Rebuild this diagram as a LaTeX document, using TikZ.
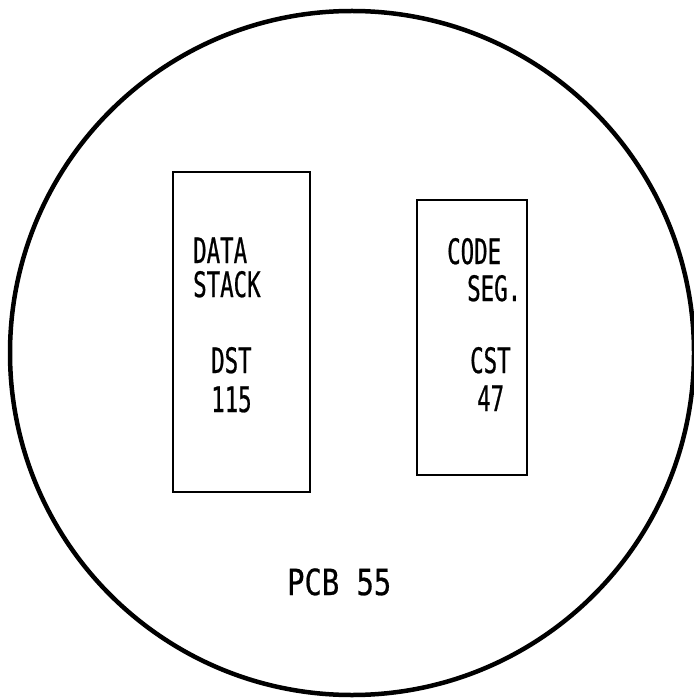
\documentclass[tikz,border=0pt]{standalone}
\usepackage{fontspec}
\newfontfamily\pfont[FakeStretch=0.64,FakeBold=0.6]{DejaVu Sans Mono}
\newfontfamily\qfont[FakeStretch=0.80,FakeBold=0.6]{DejaVu Sans Mono}
\begin{document}
\begin{tikzpicture}[x=1pt,y=-1pt,
  lbl/.style={inner sep=0pt,anchor=base west,font=\pfont\fontsize{35}{35}\selectfont},
  wlbl/.style={inner sep=0pt,anchor=base west,font=\qfont\fontsize{36}{36}\selectfont},
  boxline/.style={draw=black,line width=2.2pt}]
\useasboundingbox (0,0) rectangle (693,700);
\node[draw=black,line width=4.5pt,circle,minimum size=684pt,inner sep=0pt] (pcb) at (352,353) {};
\node[boxline,rectangle,inner sep=0pt,minimum width=137pt,minimum height=320pt] (dbox) at (241.5,332) {};
\node[boxline,rectangle,inner sep=0pt,minimum width=110pt,minimum height=275pt] (cbox) at (472,337.5) {};
\node[lbl] (t1) at (193,263) {DATA};
\node[lbl] (t2) at (193,297) {STACK};
\node[lbl] (t3) at (211,373) {DST};
\node[lbl] (t4) at (211,412) {115};
\node[lbl] (t5) at (447,264) {CODE};
\node[lbl] (t6) at (467,301) {SEG.};
\node[lbl] (t7) at (470,373) {CST};
\node[lbl] (t8) at (477,411) {47};
\node[wlbl] (t9) at (287,595) {PCB 55};
\end{tikzpicture}
\end{document}
